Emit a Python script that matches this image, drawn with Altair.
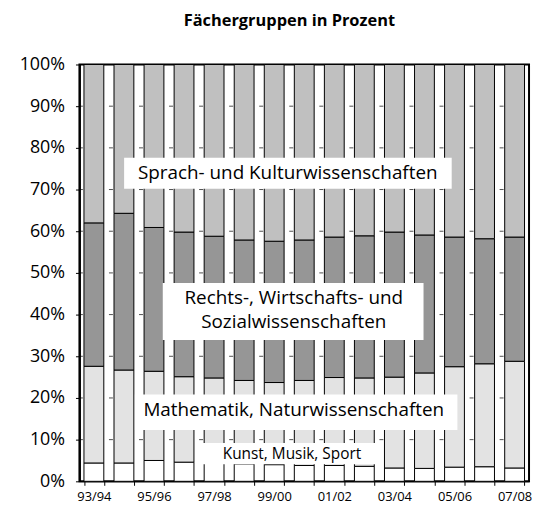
import altair as alt
import pandas as pd

years = ["93/94", "94/95", "95/96", "96/97", "97/98", "98/99", "99/00", "00/01",
         "01/02", "02/03", "03/04", "04/05", "05/06", "06/07", "07/08"]
label_years = years[::2]

groups = ["Kunst, Musik, Sport",
          "Mathematik, Naturwissenschaften",
          "Rechts-, Wirtschafts- und Sozialwissenschaften",
          "Sprach- und Kulturwissenschaften"]
colors = ["#ffffff", "#e3e3e3", "#969696", "#c0c0c0"]

kunst = [4.4, 4.4, 5.0, 4.6, 4.4, 4.2, 4.0, 3.8, 3.8, 3.6, 3.2, 3.1, 3.4, 3.5, 3.2]
mathe = [23.2, 22.3, 21.4, 20.5, 20.4, 20.0, 19.7, 20.4, 21.1, 21.2, 21.8, 22.9, 24.1, 24.7, 25.6]
rechts = [34.4, 37.6, 34.5, 34.7, 34.0, 33.7, 33.9, 33.7, 33.7, 34.1, 34.8, 33.1, 31.1, 30.0, 29.8]
sprach = [38.0, 35.7, 39.1, 40.2, 41.2, 42.1, 42.4, 42.1, 41.4, 41.1, 40.2, 40.9, 41.4, 41.8, 41.4]

grid_levels = [10, 20, 30, 40, 50, 60, 70, 80, 90]

# annotation boxes (x in category units 0..15, y in percent)
box_x1 = [1.49, 2.78, 1.85, 3.87]
box_x2 = [12.42, 11.48, 12.61, 9.93]
box_y1 = [70.2, 33.9, 12.3, 4.1]
box_y2 = [77.6, 47.6, 20.8, 9.2]

label_text = ["Sprach- und Kulturwissenschaften", "Rechts-, Wirtschafts- und",
              "Sozialwissenschaften", "Mathematik, Naturwissenschaften",
              "Kunst, Musik, Sport"]
label_x = [6.95, 7.15, 7.15, 7.15, 7.09]
label_y = [73.9, 44.0, 38.1, 17.2, 6.6]
label_size = [19, 19, 19, 19, 15.5]

FONT = "Open Sans"

rows = []
for gi, (g, vals) in enumerate(zip(groups, [kunst, mathe, rechts, sprach])):
    for yr, v in zip(years, vals):
        rows.append({"jahr": yr, "gruppe": g, "anteil": v, "ord": gi})
df = pd.DataFrame(rows)

dash_df = pd.DataFrame([{"jahr": yr, "wert": lv} for yr in years for lv in grid_levels])
box_df = pd.DataFrame({"x1": box_x1, "x2": box_x2, "y1": box_y1, "y2": box_y2})
lab_df = pd.DataFrame({"t": label_text, "x": label_x, "y": label_y, "s": label_size})

label_list = "[" + ",".join("'" + s + "'" for s in label_years) + "]"

yscale = alt.Scale(domain=[0, 100], nice=False)
band = alt.Scale(paddingInner=0.34, paddingOuter=0.15)

x_axis = alt.Axis(title=None, labelAngle=0, tickBand="extent",
                  labelExpr=f"indexof({label_list}, datum.value) >= 0 ? datum.label : ''",
                  labelFont=FONT, labelFontSize=13, labelColor="black",
                  tickColor="black", tickSize=4, domainColor="black", labelPadding=5,
                  grid=False)
y_axis = alt.Axis(title=None, values=list(range(0, 101, 10)),
                  labelExpr="datum.value + '%'", labelFont=FONT, labelFontSize=18,
                  labelColor="black", tickColor="black", tickSize=4, labelPadding=11,
                  domainColor="black", domainWidth=2, grid=False)

bars = alt.Chart(df).mark_bar(stroke="black", strokeWidth=1).encode(
    x=alt.X("jahr:N", sort=years, scale=band, axis=x_axis),
    y=alt.Y("anteil:Q", stack="zero", scale=yscale, axis=y_axis),
    color=alt.Color("gruppe:N", scale=alt.Scale(domain=groups, range=colors), legend=None),
    order=alt.Order("ord:Q", sort="ascending"),
)

dashes = alt.Chart(dash_df).mark_tick(orient="horizontal", size=4, thickness=1,
                                      color="black", xOffset=-13.1).encode(
    x=alt.X("jahr:N", sort=years, scale=band, axis=x_axis),
    y=alt.Y("wert:Q", scale=yscale, axis=y_axis),
)

xq = alt.Scale(domain=[0, 15], nice=False, zero=False)
boxes = alt.Chart(box_df).mark_rect(fill="white", stroke=None).encode(
    x=alt.X("x1:Q", scale=xq, axis=None),
    x2="x2:Q",
    y=alt.Y("y1:Q", scale=yscale, axis=y_axis),
    y2="y2:Q",
)
texts = alt.Chart(lab_df).mark_text(font=FONT, color="black", baseline="middle",
                                    align="center").encode(
    x=alt.X("x:Q", scale=xq, axis=None),
    y=alt.Y("y:Q", scale=yscale, axis=y_axis),
    text="t:N",
    size=alt.Size("s:Q", scale=None, legend=None),
)

chart = alt.layer(
    alt.layer(bars, dashes),
    alt.layer(boxes, texts),
).resolve_scale(x="independent").properties(
    width=453, height=420,
    title=alt.TitleParams("Fächergruppen in Prozent", font=FONT, fontSize=16.5,
                          fontWeight="bold", color="black", anchor="middle",
                          dx=-15, offset=26),
    autosize=alt.AutoSizeParams(type="none"),
    padding={"left": 72, "top": 55, "right": 4, "bottom": 30},
).configure_view(stroke="black", strokeWidth=2)

chart.save("out.html", embed_options={"renderer": "svg", "actions": False})
